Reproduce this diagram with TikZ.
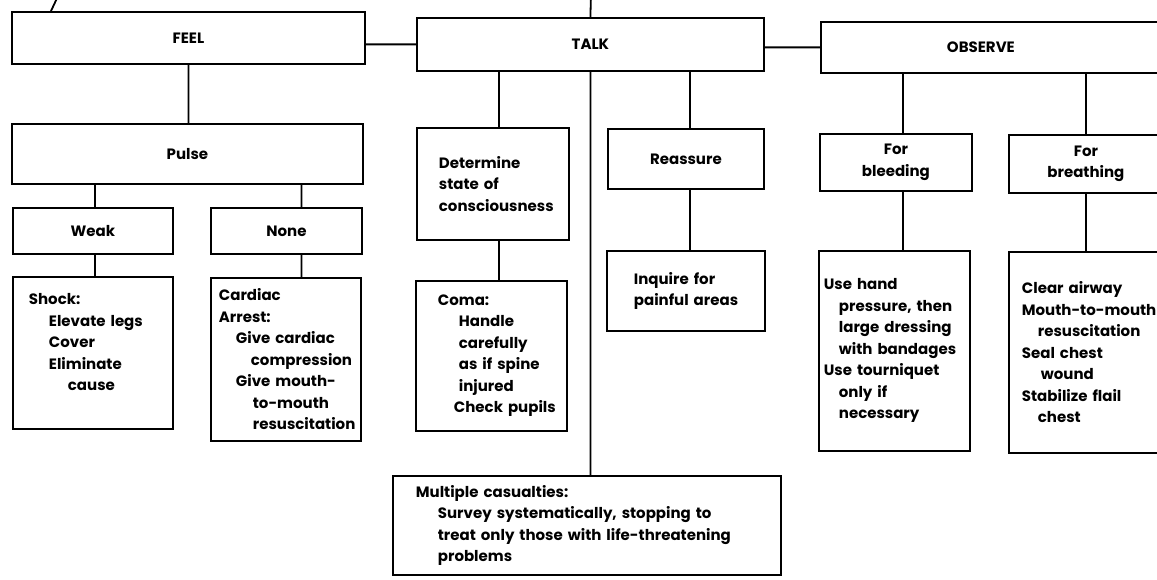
\documentclass[tikz,border=0pt]{standalone}
\usepackage{fontspec}
\setmainfont{Poppins}
\hyphenpenalty=10000
\exhyphenpenalty=10000

\begin{document}
\begin{tikzpicture}[
    x=1pt, y=-1pt,
    boks/.style = {rectangle, draw, line width=1.8pt, inner sep=0pt, anchor=north west, align=center},
    liste/.style = {boks, align=left, inner xsep=2pt},
    linje/.style = {black, line width=1.8pt},
    font=\bfseries\fontsize{15}{21.5}\selectfont
    ]

  \useasboundingbox (0,0) rectangle (1157,580);

  % top row
  \node[boks, minimum width=353pt, minimum height=52pt] (feel) at (11,11) {FEEL};
  \node[boks, minimum width=347pt, minimum height=53pt] (talk) at (416,17) {TALK};
  \node[boks, minimum width=342pt, minimum height=51pt] (observe) at (820,21) {OBSERVE\hspace*{22pt}};
  \coordinate (talktop) at (591,-6);
  \coordinate (feeltop) at (59,-6);

  % feel
  \node[boks, minimum width=351pt, minimum height=60pt] (pulse) at (11,123) {Pulse};
  \node[boks, minimum width=160pt, minimum height=46pt] (weak) at (12,207) {Weak};
  \node[boks, minimum width=151pt, minimum height=46pt] (none) at (210,207) {None};
  \node[liste, text width=156pt, minimum height=152pt] (shock) at (12,276)
    {\leftskip=14pt\relax Shock:\\ \hspace*{20pt}Elevate legs\\ \hspace*{20pt}Cover\\ \hspace*{20pt}Eliminate\\
     \hspace*{39pt}cause\\ \mbox{}\par};
  \node[liste, text width=146pt, minimum height=163pt] (cardiac) at (210,277)
    {\leftskip=6pt\relax Cardiac\\ Arrest:\\ \hspace*{17pt}Give cardiac\\ \hspace*{32pt}compression\\
     \hspace*{17pt}Give mouth-\\ \hspace*{34pt}to-mouth\\ \hspace*{34pt}resuscitation\par};

  % talk
  \node[liste, text width=148pt, minimum height=112pt] (determine) at (416,127)
    {\leftskip=20pt\relax Determine\\ state of\\ consciousness\par};
  \node[liste, text width=147pt, minimum height=150pt] (coma) at (415,280)
    {\leftskip=20pt\relax Coma:\\ \hspace*{21pt}Handle\\ \hspace*{21pt}carefully\\ \hspace*{21pt}as if spine\\
     \hspace*{21pt}injured\\ \hspace*{16pt}Check pupils\par};
  \node[boks, minimum width=156pt, minimum height=60pt] (reassure) at (607,128) {Reassure};
  \node[liste, text width=154pt, minimum height=80pt] (inquire) at (606,250)
    {\leftskip=25pt\relax Inquire for\\ painful areas\par};
  \node[liste, text width=384pt, minimum height=99pt] (multiple) at (392,475)
    {\leftskip=21pt\relax Multiple casualties:\\
     \hspace*{22pt}\makebox[311pt][s]{Survey systematically, stopping to}\\
     \hspace*{22pt}\makebox[311pt][s]{treat only those with life-threatening}\\
     \hspace*{22pt}problems\par};

  % observe
  \node[boks, minimum width=152pt, minimum height=57pt] (bleeding) at (819,133) {For\\ bleeding};
  \node[boks, minimum width=154pt, minimum height=58pt] (breathing) at (1008,134) {For\\ breathing};
  \node[liste, text width=147pt, minimum height=200pt] (usehand) at (818,250)
    {\leftskip=3pt\relax Use hand\\ \hspace*{15pt}pressure, then\\ \hspace*{15pt}large dressing\\
     \hspace*{15pt}with bandages\\ Use tourniquet\\ \hspace*{15pt}only if\\ \hspace*{15pt}necessary\par};
  \node[liste, text width=150pt, minimum height=201pt] (clear) at (1008,251)
    {\leftskip=11pt\relax Clear airway\\ Mouth-to-mouth\\ \hspace*{16pt}resuscitation\\ Seal chest\\
     \hspace*{19pt}wound\\ Stabilize flail\\ \hspace*{16pt}chest\par};

  \draw[linje]
  (talk.north) -- (talktop)
  ([xshift=40pt]feel.north west) -- (feeltop)
  (talk.west) -- (talk.west -| feel.east)
  (observe.west) -- (observe.west -| talk.east)

  (feel.south) -- (feel.south |- pulse.north)
  ([xshift=2pt]weak.north) -- ([xshift=2pt]weak.north |- pulse.south)
  ([xshift=15pt]none.north) -- ([xshift=15pt]none.north |- pulse.south)
  ([xshift=2pt]weak.south) -- ([xshift=2pt]weak.south |- shock.north)
  ([xshift=15pt]none.south) -- ([xshift=15pt]none.south |- cardiac.north)

  ([xshift=6pt]determine.north) -- ([xshift=6pt]determine.north |- talk.south)
  ([xshift=6pt]determine.south) -- ([xshift=6pt]determine.south |- coma.north)
  ([xshift=4pt]reassure.north) -- ([xshift=4pt]reassure.north |- talk.south)
  ([xshift=4pt]reassure.south) -- ([xshift=4pt]reassure.south |- inquire.north)
  (talk.south) -- (talk.south |- multiple.north)

  ([xshift=7pt]bleeding.north) -- ([xshift=7pt]bleeding.north |- observe.south)
  (breathing.north) -- (breathing.north |- observe.south)
  ([xshift=7pt]bleeding.south) -- ([xshift=7pt]bleeding.south |- usehand.north)
  (breathing.south) -- (breathing.south |- clear.north) ;

\end{tikzpicture}
\end{document}
